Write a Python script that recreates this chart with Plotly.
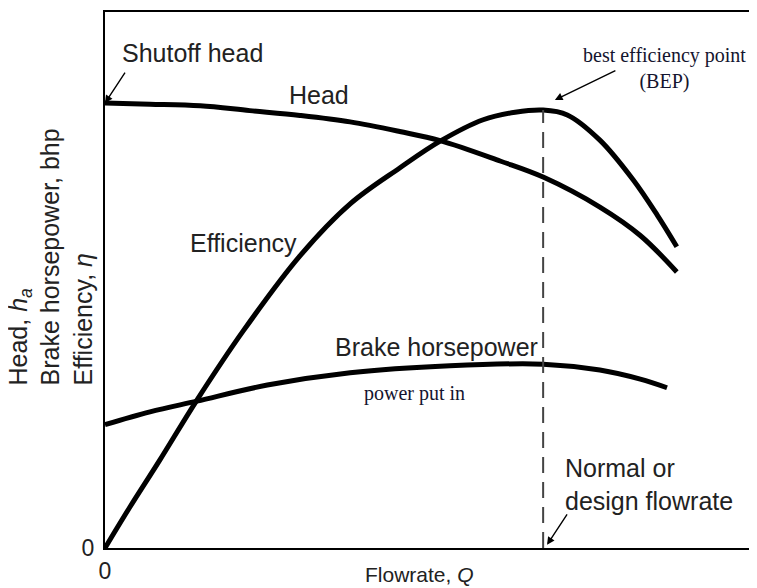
import plotly.graph_objects as go

# Flowrate Q (arbitrary units, 0-100 across the axis) and curve values (0-100 of axis height)
head_q = [0, 6.9, 14.6, 22.2, 29.9, 37.6, 45.2, 51.4, 60.6, 67.2, 75.9, 82.1, 87.7]
head_h = [83.0, 82.8, 82.5, 81.6, 80.7, 79.5, 77.7, 76.0, 72.2, 69.2, 63.6, 58.3, 51.5]

eff_q = [0, 3.8, 8.4, 14.1, 21.2, 29.9, 37.6, 45.2, 51.4, 58.0, 62.9, 67.2, 70.9, 75.9, 81.0, 84.7, 87.7]
eff_v = [0, 7.6, 16.4, 27.6, 40.5, 54.5, 64.2, 70.9, 75.9, 79.9, 81.3, 81.7, 80.8, 76.1, 68.7, 62.1, 56.2]

bhp_q = [0, 6.9, 14.1, 24.9, 37.6, 52.9, 67.2, 75.9, 82.1, 86.2]
bhp_v = [23.0, 25.4, 27.4, 30.4, 32.7, 34.0, 34.3, 33.2, 31.5, 29.9]

bep_q = 67.2
bep_eff = 81.7

SANS = "Liberation Sans, Arial, sans-serif"
SERIF = "Liberation Serif, Times New Roman, serif"
SFS = 25
TXT = "#222222"
SERIF_COLOR = "#14142e"

fig = go.Figure()
line_style = dict(color="black", width=5, shape="spline", smoothing=1.0)
fig.add_trace(go.Scatter(x=head_q, y=head_h, mode="lines", line=line_style, name="Head"))
fig.add_trace(go.Scatter(x=eff_q, y=eff_v, mode="lines", line=line_style, name="Efficiency"))
fig.add_trace(go.Scatter(x=bhp_q, y=bhp_v, mode="lines", line=line_style, name="Brake horsepower"))
fig.add_trace(go.Scatter(x=[bep_q, bep_q], y=[0, bep_eff], mode="lines",
                         line=dict(color="#444444", width=2, dash="16px,9px"), name="BEP"))

ann = []
def text(x, y, t, font=SANS, size=SFS, color=TXT, xanchor="center", yanchor="middle", align="center"):
    ann.append(dict(x=x, y=y, xref="x", yref="y", text=t, showarrow=False,
                    font=dict(family=font, size=size, color=color),
                    xanchor=xanchor, yanchor=yanchor, align=align))

def arrow(x, y, ax, ay):
    ann.append(dict(x=x, y=y, xref="x", yref="y", text="", showarrow=True,
                    ax=ax, ay=ay, arrowhead=2, arrowsize=1.1, arrowwidth=1.4,
                    arrowcolor="black", standoff=0, startstandoff=0))

text(2.3, 92.3, "Shutoff head", xanchor="left")
text(32.8, 84.5, "Head")
text(21.2, 56.9, "Efficiency")
text(50.9, 37.5, "Brake horsepower")
text(47.5, 28.9, "power put in", font=SERIF, size=20, color=SERIF_COLOR)
text(85.8, 89.5, "best efficiency point<br>(BEP)", font=SERIF, size=20, color=SERIF_COLOR)
text(70.3, 11.8, "Normal or<br>design flowrate", xanchor="left", align="left")

arrow(0.0, 83.0, 21, -32)
arrow(69.0, 83.6, 62, -30)
arrow(67.8, 0.6, 21, -32)

ann.append(dict(x=0.483, y=-0.05, xref="paper", yref="paper", text="Flowrate, <i>Q</i>",
                showarrow=False, font=dict(family=SANS, size=21, color=TXT),
                xanchor="center", yanchor="middle"))
ann.append(dict(x=-0.0835, y=0.543, xref="paper", yref="paper",
                text="Head, <i>h<sub>a</sub></i><br>Brake horsepower, bhp<br>Efficiency, <i>η</i>",
                showarrow=False, textangle=-90, align="left",
                font=dict(family=SANS, size=SFS, color=TXT),
                xanchor="center", yanchor="middle"))

# The page body adds an 8px margin, so the figure is sized to fit the 757x588 window.
fig.update_layout(
    width=749, height=580, autosize=False,
    margin=dict(l=97, r=0, t=4, b=40, autoexpand=False),
    paper_bgcolor="white", plot_bgcolor="white",
    showlegend=False,
    annotations=ann,
    xaxis=dict(range=[0, 100], showgrid=False, zeroline=False, showline=True,
               linecolor="black", linewidth=2, mirror=True, automargin=False,
               tickvals=[0], ticktext=["0"], ticks="", ticklabelstandoff=1,
               tickfont=dict(family=SANS, size=23, color=TXT)),
    yaxis=dict(range=[0, 100], showgrid=False, zeroline=False, showline=True,
               linecolor="black", linewidth=2, mirror=False, automargin=False,
               tickvals=[0], ticktext=["0"], ticks="", ticklabelstandoff=4,
               tickfont=dict(family=SANS, size=23, color=TXT)),
)

fig.write_html("out.html")
